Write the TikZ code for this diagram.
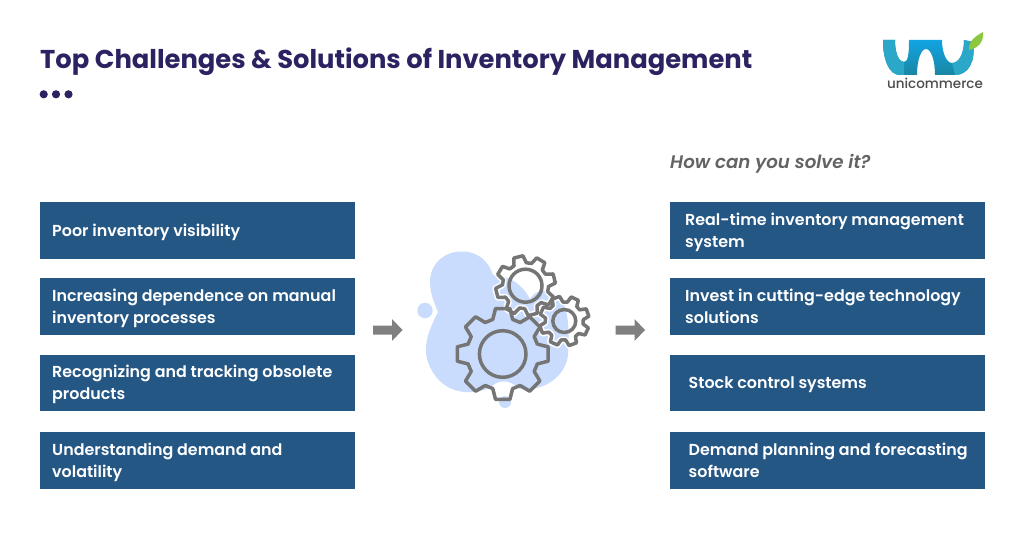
\documentclass[tikz,border=0pt]{standalone}
\usepackage{fontspec}
\setmainfont{Poppins}[BoldFont={Poppins SemiBold},BoldItalicFont={Poppins SemiBold Italic}]
\newfontfamily\titlefont{Poppins Bold}
\newfontfamily\logofont{Poppins Medium}
\usetikzlibrary{arrows.meta,calc}
\definecolor{navy}{HTML}{2B2361}
\definecolor{boxblue}{HTML}{255785}
\definecolor{blob}{HTML}{C9DCFD}
\definecolor{gearg}{HTML}{757575}
\definecolor{arrowg}{HTML}{808080}
\definecolor{logotop}{HTML}{12A4E3}
\definecolor{logobot}{HTML}{1A86A3}
\definecolor{logoarm}{HTML}{2BA8C8}
\definecolor{logoleaf}{HTML}{8DC63F}
\tikzset{
 x=1pt,y=-1pt,
 card/.style={fill=boxblue,draw=none,minimum width=315pt,minimum height=56.5pt,inner sep=0pt,anchor=north west},
 cardtext/.style={text=white,font=\bfseries\fontsize{15.9}{22}\selectfont,align=left,anchor=west,inner sep=0pt,yshift=-1.6pt,execute at begin node=\vphantom{H},execute at end node=\vphantom{p}},
 gearline/.style={draw=gearg,line width=3.5pt,line join=round},
 gearhalo/.style={draw=white,line width=6.5pt,line join=round},
 flow/.style={draw=none,fill=arrowg},
}
% #1 style, #2 centre x, #3 centre y, #4 outer r, #5 root r, #6 rotation
\newcommand{\gearpath}[6]{%
 \draw[#1] ($(#2,#3)+(#6-9:#4)$)
 \foreach \k in {0,45,...,315}{
   -- ($(#2,#3)+(#6+\k-9:#4)$) -- ($(#2,#3)+(#6+\k+9:#4)$) -- ($(#2,#3)+(#6+\k+16:#5)$) -- ($(#2,#3)+(#6+\k+29:#5)$)
 } -- cycle;
}
\begin{document}
\begin{tikzpicture}
\useasboundingbox (0,0) rectangle (1024,559);
\fill[white] (0,0) rectangle (1024,559);
\node[anchor=west,text=navy,font=\titlefont\fontsize{25.8}{30}\selectfont,inner sep=0pt] (title) at (40,61.5) {Top Challenges \& Solutions of Inventory Management};
\foreach \x in {43.7,56,68.5}{\fill[navy] (\x,94.3) circle (4.1);}
\node[anchor=west,text=gearg!85!black,font=\bfseries\itshape\fontsize{18.2}{20}\selectfont,inner sep=0pt] (q) at (670,164) {How can you solve it?};
\foreach \nm/\y/\t in {l1/202/{Poor inventory visibility},
 l2/278/{Increasing dependence on manual\\inventory processes},
 l3/354.7/{Recognizing and tracking obsolete\\products},
 l4/432/{Understanding demand and\\volatility}}{
 \node[card] (\nm) at (40,\y) {};
 \node[cardtext] at ([xshift=12pt]\nm.west) {\t};
}
\foreach \nm/\y/\dx/\t in {r1/202/15/{Real-time inventory management\\system},
 r2/278/15/{Invest in cutting-edge technology\\solutions},
 r3/354.7/18.5/{Stock control systems},
 r4/432/18.5/{Demand planning and forecasting\\software}}{
 \node[card] (\nm) at (670,\y) {};
 \node[cardtext] at ([xshift=\dx pt]\nm.west) {\t};
}
% arrows
\foreach \x in {373,615.5}{
 \fill[flow] (\x,325.5) -- ++(19,0) -- ++(0,-6.5) -- ++(10.5,11) -- ++(-10.5,11) -- ++(0,-6.5) -- ++(-19,0) -- cycle;
}
% blob
\fill[blob] (461.5,251.5) .. controls (480,251.5) and (489,263) .. (493,275)
 .. controls (510,276) and (522,284) .. (530,299) .. controls (537,287) and (553,288) .. (562,300)
 .. controls (570,315) and (569,340) .. (568,355) .. controls (566,375) and (545,392) .. (520,389)
 .. controls (508,378) and (497,380) .. (490,388) .. controls (470,396) and (440,395) .. (428,362)
 .. controls (422,345) and (430,328) .. (438,312) .. controls (432,298) and (430,290) .. (430,282)
 .. controls (430,264) and (444,251.5) .. (461.5,251.5) -- cycle;
\fill[blob] (425,310.5) circle (7.7);
\fill[blob] (505,402) circle (6);
% gears
\gearpath{gearhalo}{525.5}{285.7}{30}{23}{76}
\gearpath{gearhalo}{564.3}{321}{25}{19}{70}
\gearpath{gearline}{502.7}{354}{46}{36}{90}
\draw[gearline] (502.7,354) circle (23.3);
\gearpath{gearline}{525.5}{285.7}{30}{23}{76}
\draw[gearline] (525.5,285.7) circle (16.5);
\gearpath{gearline}{564.3}{321}{25}{19}{70}
\draw[gearline] (564.3,321) circle (11.5);
% logo
\path[top color=logotop,bottom color=logobot]
 (883,40) -- (895,40) .. controls (895,54) and (899,62) .. (904,62) .. controls (908,62) and (909,54) .. (909,40)
 -- (942,40) .. controls (942,54) and (947,63) .. (952,63) .. controls (959,63) and (964,54) .. (964,40)
 -- (973,42) .. controls (976,62) and (968,75) .. (955,75) .. controls (945,75) and (938,75) .. (935,75)
 .. controls (935,60) and (931,49) .. (926,49) .. controls (921,49) and (917,60) .. (917,75)
 -- (900,75) .. controls (889,75) and (883,60) .. (883,40) -- cycle;
\fill[logoarm] (883,40) -- (895,40) .. controls (895,54) and (899,62) .. (904,62) -- (904,75) -- (900,75) .. controls (889,75) and (883,60) .. (883,40) -- cycle;
\fill[logoarm] (964,40) -- (973,42) .. controls (976,62) and (968,75) .. (955,75) -- (952,63) .. controls (959,63) and (964,54) .. (964,40) -- cycle;
\fill[logoleaf] (969,50) .. controls (968,41) and (976,36) .. (983,32) .. controls (984,41) and (979,48) .. (969,50) -- cycle;
\node[font=\logofont\fontsize{13.5}{14}\selectfont,text=black!70,inner sep=0pt] (logo) at (935,83.5) {unicommerce};
\end{tikzpicture}
\end{document}
